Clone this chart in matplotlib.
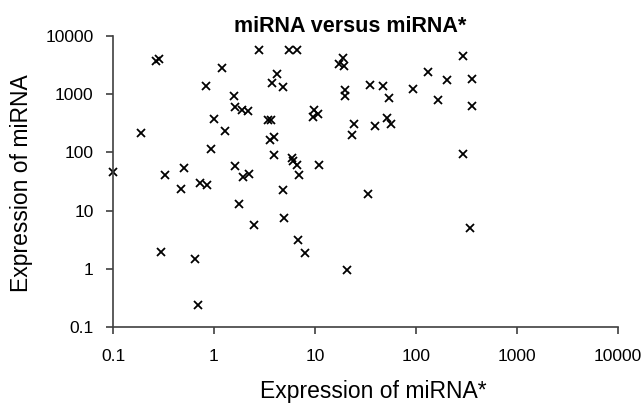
import numpy as np
import matplotlib
matplotlib.use("Agg")
import matplotlib.pyplot as plt
from matplotlib.ticker import FixedLocator, FixedFormatter, NullLocator

plt.rcParams['font.family'] = ['Liberation Sans', 'DejaVu Sans']

# expression values (miRNA* on x, miRNA on y)
mirna_star = [0.1, 0.19, 0.265, 0.285, 0.327, 0.505, 0.471, 0.726, 0.847, 0.828,
              0.933, 0.99, 1.19, 1.28, 1.58, 1.61, 1.61, 1.88, 2.16, 1.95,
              2.22, 2.79, 3.45, 3.64, 3.75, 4.2, 4.79, 3.6, 3.93, 3.94,
              4.79, 5.5, 6.63, 5.96, 6.1, 6.59, 6.95, 9.77, 9.49, 10.8,
              11, 17.4, 18.8, 19.5, 19.8, 19.8, 24.3, 23.4,
              0.297, 0.649, 0.70, 1.77, 2.51, 4.93, 6.84, 7.96, 20.6,
              294, 132, 201, 356, 35.1, 47.4, 54.4, 94, 164, 361,
              39.3, 51.3, 56.5, 294, 33.3, 343]
mirna = [46, 215, 3720, 3980, 41.5, 55, 23.9, 30.3, 27.2, 1367,
         113, 371, 2860, 233, 920, 603, 58.4, 543, 514, 37.8,
         42, 5680, 366, 366, 1557, 2260, 1330, 166, 184, 91.6,
         23, 5680, 5680, 81.4, 71, 61.7, 41.5, 529, 405, 452,
         60, 3356, 4190, 3013, 1200, 930, 304, 197,
         1.94, 1.46, 0.236, 12.8, 5.59, 7.58, 3.17, 1.87, 0.97,
         4530, 2405, 1733, 1854, 1422, 1367, 874, 1214, 785, 620,
         281, 396, 313, 95.3, 19, 5.02]

ticks = [0.1, 1, 10, 100, 1000, 10000]
tick_labels = ['0.1', '1', '10', '100', '1000', '10000']

fig = plt.figure(figsize=(6.42, 4.04), dpi=100)
ax = fig.add_axes([113 / 642, 1 - 327 / 404, (618 - 113) / 642, (327 - 36) / 404])

ax.plot(mirna_star, mirna, linestyle='none', marker='x', color='black',
        markersize=5.5, markeredgewidth=1.3, clip_on=False)

ax.set_xscale('log')
ax.set_yscale('log')
ax.set_xlim(0.1, 10000)
ax.set_ylim(0.1, 10000)

for axis in (ax.xaxis, ax.yaxis):
    axis.set_major_locator(FixedLocator(ticks))
    axis.set_major_formatter(FixedFormatter(tick_labels))
    axis.set_minor_locator(NullLocator())

for side in ('top', 'right'):
    ax.spines[side].set_visible(False)
for side in ('left', 'bottom'):
    ax.spines[side].set_color('#404040')
    ax.spines[side].set_linewidth(1.2)

ax.tick_params(direction='out', length=5, width=1.2, color='#404040',
               labelsize=12.5, labelcolor='black')
ax.tick_params(axis='x', pad=11)
ax.tick_params(axis='y', pad=9)

fig.text(350 / 642, 1 - 32 / 404, 'miRNA versus miRNA*', ha='center', va='baseline',
         fontsize=15.5, fontweight='bold')
fig.text(373 / 642, 1 - 398 / 404, 'Expression of miRNA*', ha='center', va='baseline',
         fontsize=16.5)
fig.text(22 / 642, 1 - 183 / 404, 'Expression of miRNA', ha='center', va='center',
         fontsize=16.5, rotation=90)

fig.savefig('out.png', dpi=100)
plt.close(fig)
